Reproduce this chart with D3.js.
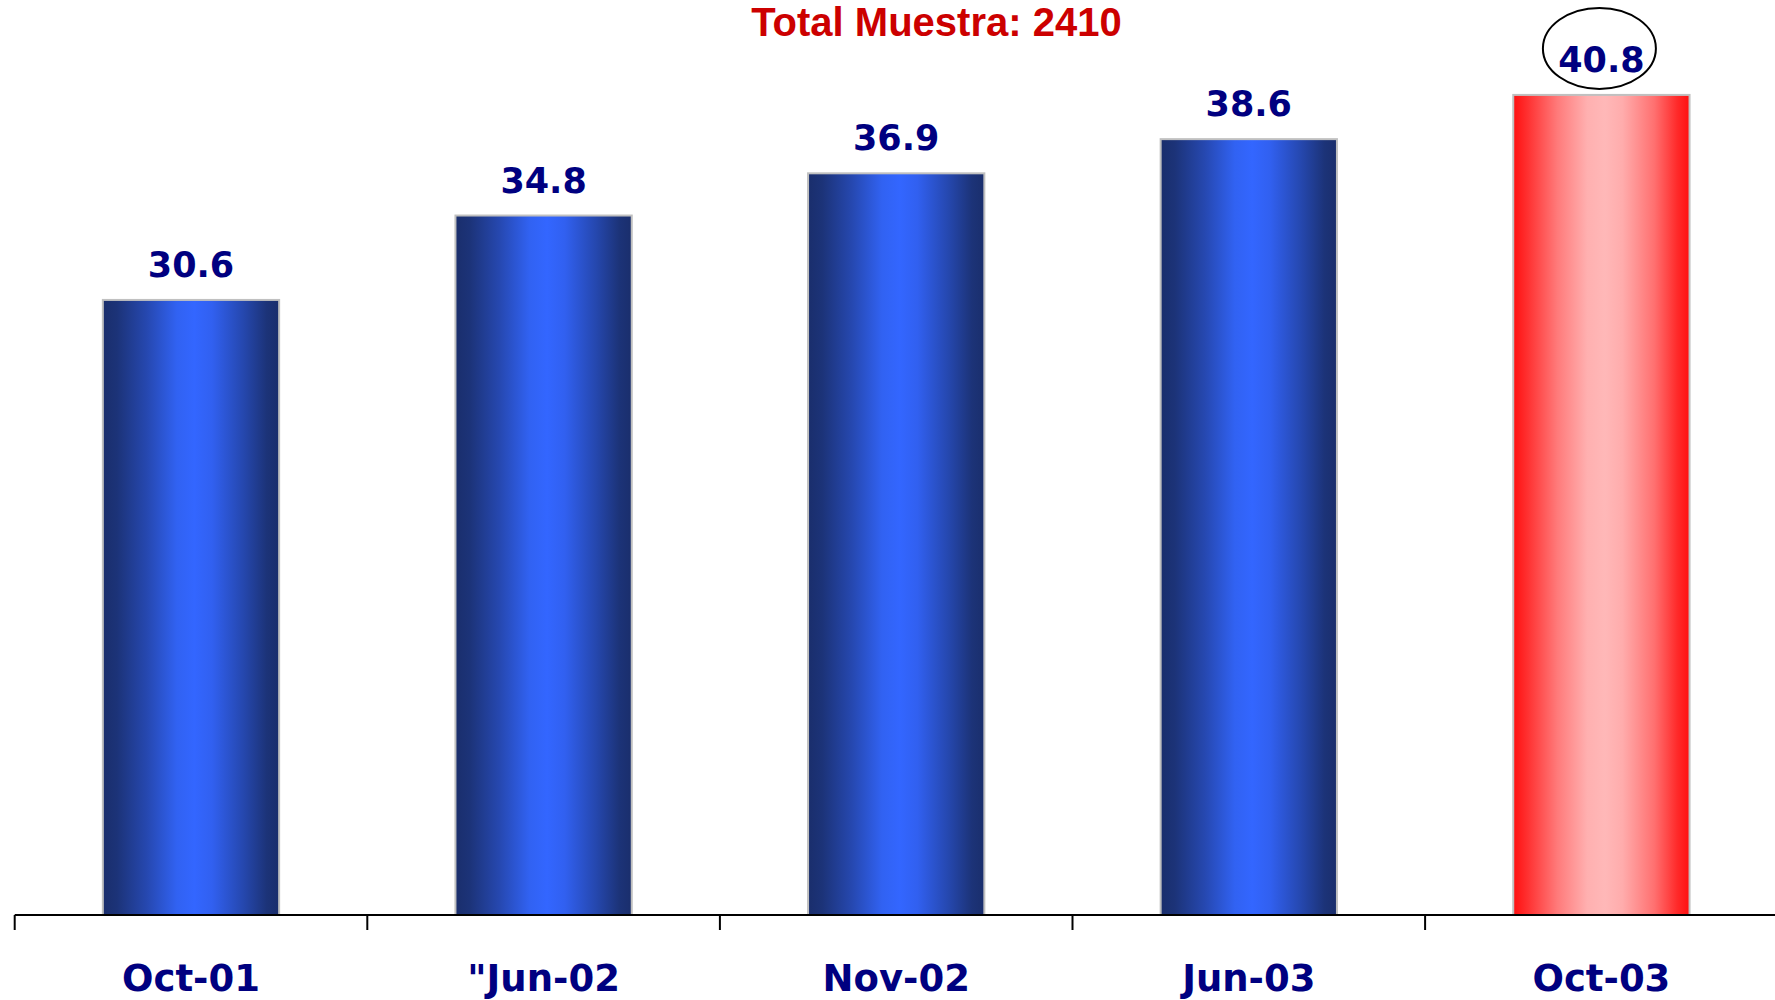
<!DOCTYPE html>
<html>
<head>
<meta charset="utf-8">
<script src="https://cdn.jsdelivr.net/npm/d3@7"></script>
<style>
  html, body { margin: 0; padding: 0; background: #fff; }
  svg { display: block; }
</style>
</head>
<body>
<script>
const categories = ["Oct-01", "\"Jun-02", "Nov-02", "Jun-03", "Oct-03"];
const values = [30.6, 34.8, 36.9, 38.6, 40.8];
const highlight = [false, false, false, false, true];
const circled = [false, false, false, false, true];
const subtitle = "Total Muestra: 2410";

const W = 1775, H = 1000;
const svg = d3.select("body").append("svg").attr("width", W).attr("height", H);

const defs = svg.append("defs");
function grad(id, stops) {
  const g = defs.append("linearGradient").attr("id", id)
    .attr("x1", "0%").attr("x2", "100%").attr("y1", "0%").attr("y2", "0%");
  stops.forEach(([o, c]) => g.append("stop").attr("offset", o).attr("stop-color", c));
}
grad("gBlue", [[0, "#1a2e6c"], [0.08, "#1c3378"], [0.25, "#2648b0"], [0.42, "#3162f2"],
  [0.52, "#3366ff"], [0.62, "#3160f0"], [0.8, "#2547ad"], [0.93, "#1c3378"], [1, "#1a2e6c"]]);
grad("gRed", [[0, "#ff0f0f"], [0.08, "#ff3030"], [0.25, "#ff7a7a"], [0.42, "#ffb0b0"],
  [0.52, "#ffb8b8"], [0.62, "#ffacac"], [0.8, "#ff7070"], [0.93, "#ff2a2a"], [1, "#ff0f0f"]]);

const x = d3.scaleBand().domain(categories).range([14.7, 1777.7])
  .paddingInner(0.5).paddingOuter(0.25);
const xAxisScale = d3.scaleBand().domain(categories).range([14.7, 1777.7]).padding(0);
const y = d3.scaleLinear().domain([0, 45]).range([915, 10.5]);

// bars
svg.selectAll("rect.bar").data(values).join("rect")
  .attr("class", "bar")
  .attr("x", (d, i) => x(categories[i]))
  .attr("y", d => y(d))
  .attr("width", x.bandwidth())
  .attr("height", d => y(0) - y(d))
  .attr("fill", (d, i) => highlight[i] ? "url(#gRed)" : "url(#gBlue)")
  .attr("stroke", "#c0c0c0")
  .attr("stroke-width", 2);

// value labels
svg.selectAll("text.val").data(values).join("text")
  .attr("class", "val")
  .attr("x", (d, i) => x(categories[i]) + x.bandwidth() / 2)
  .attr("y", d => y(d) - 23)
  .attr("text-anchor", "middle")
  .attr("font-family", "DejaVu Sans")
  .attr("font-weight", "bold")
  .attr("font-size", 35)
  .attr("fill", "#000080")
  .text(d => d.toFixed(1));

// circle around highlighted label
const circData = categories.map((c, i) => ({ c, v: values[i], on: circled[i] })).filter(d => d.on);
svg.selectAll("ellipse.circ").data(circData).join("ellipse")
  .attr("class", "circ")
  .attr("cx", d => x(d.c) + x.bandwidth() / 2 - 2)
  .attr("cy", d => y(d.v) - 46.5)
  .attr("rx", 56.5)
  .attr("ry", 40.5)
  .attr("fill", "none")
  .attr("stroke", "#000")
  .attr("stroke-width", 2);

// axis
const axisG = svg.append("g").attr("transform", `translate(0,${y(0)})`);
const axis = d3.axisBottom(xAxisScale).tickSize(0).tickPadding(0);
axisG.call(axis);
axisG.select(".domain").remove();
axisG.append("line")
  .attr("x1", 14.7).attr("x2", W).attr("y1", 0).attr("y2", 0)
  .attr("stroke", "#000").attr("stroke-width", 2);
axisG.selectAll("line.tk").data(categories).join("line")
  .attr("class", "tk")
  .attr("x1", d => xAxisScale(d)).attr("x2", d => xAxisScale(d))
  .attr("y1", 0).attr("y2", 15)
  .attr("stroke", "#000").attr("stroke-width", 2);
axisG.selectAll(".tick text")
  .attr("y", 76)
  .attr("dy", 0)
  .attr("font-family", "DejaVu Sans")
  .attr("font-weight", "bold")
  .attr("font-size", 37)
  .attr("fill", "#000080");

// subtitle
svg.append("text")
  .attr("x", 936.4).attr("y", 36)
  .attr("text-anchor", "middle")
  .attr("font-family", "Liberation Sans")
  .attr("font-weight", "bold")
  .attr("font-size", 40)
  .attr("fill", "#cc0000")
  .text(subtitle);
</script>
</body>
</html>
